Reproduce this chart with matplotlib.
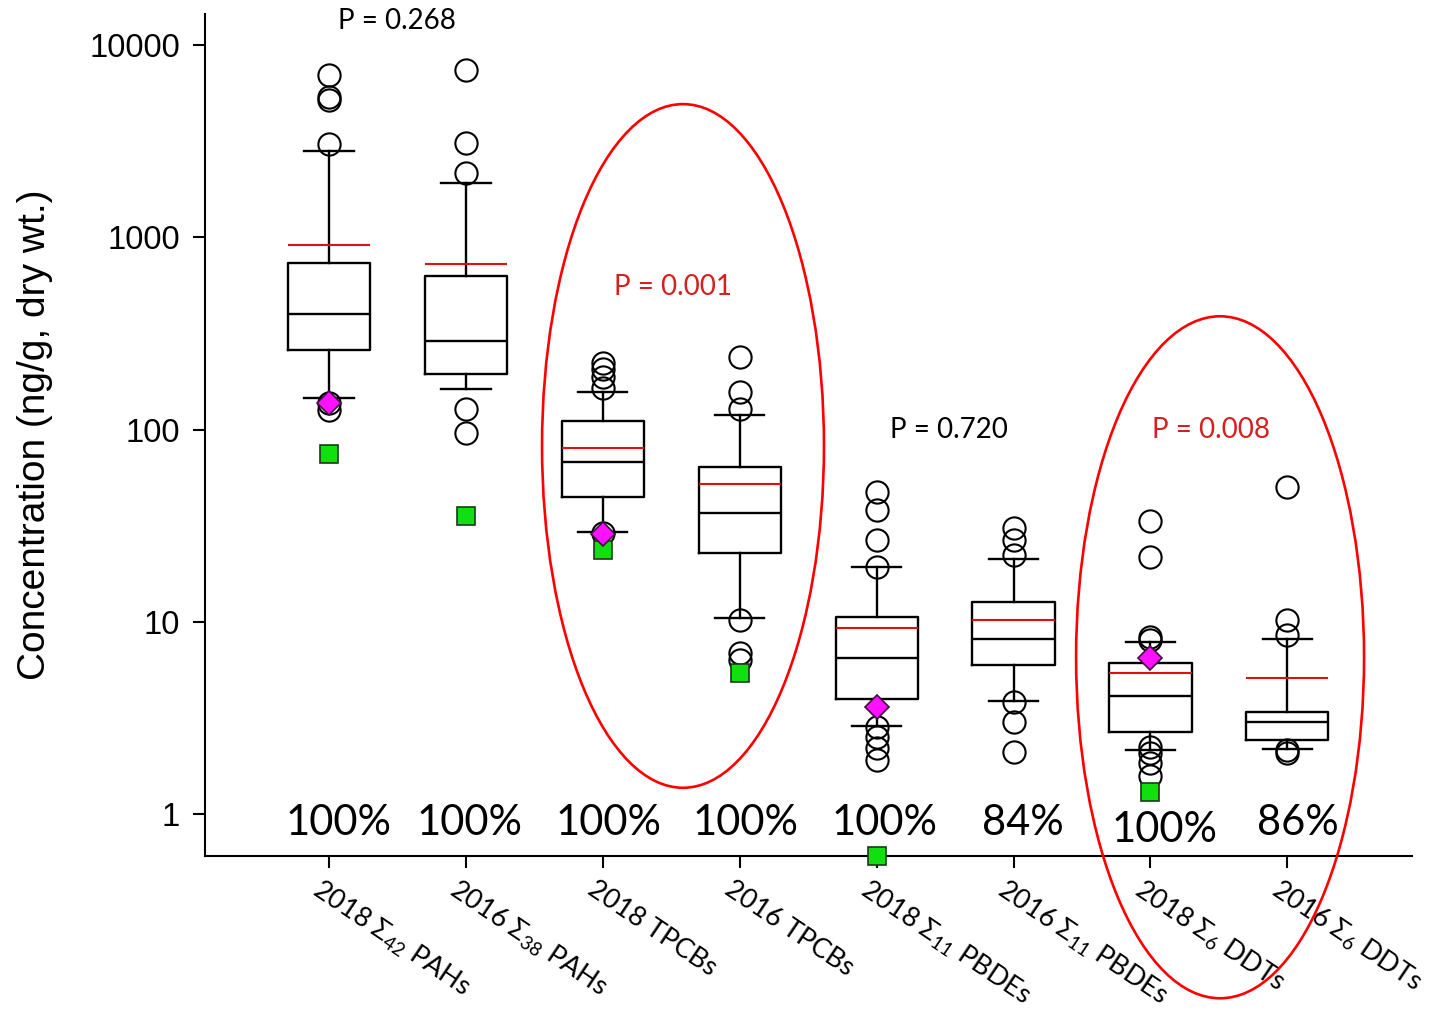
import matplotlib
matplotlib.use('Agg')
import matplotlib.pyplot as plt
import matplotlib.transforms as mtransforms
from matplotlib.patches import Ellipse
from matplotlib.ticker import NullLocator

plt.rcParams['mathtext.fontset'] = 'custom'
plt.rcParams['mathtext.rm'] = 'Lato'
plt.rcParams['mathtext.it'] = 'Lato:italic'
plt.rcParams['mathtext.bf'] = 'Lato:bold'

# box statistics (ng/g dry wt.)
labels = [r'2018 $\Sigma_{42}$ PAHs', r'2016 $\Sigma_{38}$ PAHs',
          '2018 TPCBs', '2016 TPCBs',
          r'2018 $\Sigma_{11}$ PBDEs', r'2016 $\Sigma_{11}$ PBDEs',
          r'2018 $\Sigma_{6}$ DDTs', r'2016 $\Sigma_{6}$ DDTs']
whishi = [2810, 1915, 157, 119, 19.3, 21.2, 7.85, 8.13]
q3 = [734, 628, 111, 63.8, 10.6, 12.7, 6.1, 3.4]
medians = [399, 288, 68, 36.8, 6.48, 8.13, 4.11, 3.01]
q1 = [259, 194, 44.5, 22.8, 3.96, 5.96, 2.67, 2.43]
whislo = [146, 162, 29.3, 10.5, 2.87, 3.87, 2.15, 2.18]
means = [912, 726, 80, 52, 9.27, 10.2, 5.41, 5.1]
fliers = [
    [6980, 5370, 5175, 3055, 137, 126],
    [7410, 3090, 2158, 128, 96],
    [222, 207, 188, 164, 29],
    [238, 157, 128, 10.2, 6.9, 6.3],
    [47.3, 38.1, 26.6, 19.3, 2.83, 2.52, 2.2, 1.91],
    [30.7, 26.6, 22.2, 3.83, 3.01, 2.1],
    [33.4, 21.7, 8.33, 8.04, 2.23, 2.07, 1.84, 1.58],
    [50.2, 10.2, 8.53, 2.15, 2.07],
]

# magenta diamonds and green squares
diamond_idx = [1, 3, 5, 7]
diamond_vals = [137, 28.5, 3.6, 6.5]
square_idx = [1, 2, 3, 4, 5, 7]
square_vals = [75, 35.5, 23.5, 5.4, 0.605, 1.3]

detect_pct = ['100%', '100%', '100%', '100%', '100%', '84%', '100%', '86%']
p_values = ['P = 0.268', 'P = 0.001', 'P = 0.720', 'P = 0.008']
p_colors = ['black', '#d42020', 'black', '#d42020']


def driver():
    positions = list(range(1, len(labels) + 1))
    stats = []
    for i in range(len(labels)):
        stats.append(dict(med=medians[i], q1=q1[i], q3=q3[i],
                          whislo=whislo[i], whishi=whishi[i],
                          mean=means[i], fliers=fliers[i]))

    fig = plt.figure(figsize=(14.3, 10.16), dpi=100)
    ax = fig.add_axes([0.1434, 0.1575, 0.8440, 0.8287])
    ax.set_yscale('log')

    line = dict(color='black', linewidth=1.7)
    ax.bxp(stats, positions=positions, widths=0.6, capwidths=0.36,
           showmeans=True, meanline=True,
           boxprops=line, whiskerprops=line, capprops=line,
           medianprops=line,
           meanprops=dict(color='#e01010', linewidth=1.5, linestyle='-'),
           flierprops=dict(marker='o', markersize=16, markerfacecolor='none',
                           markeredgecolor='black', markeredgewidth=1.5))

    ax.plot(square_idx, square_vals, 's', markersize=13,
            markerfacecolor='#10e010', markeredgecolor='#1a3a1a',
            markeredgewidth=1.2, clip_on=False, zorder=4)
    ax.plot(diamond_idx, diamond_vals, 'D', markersize=12.5,
            markerfacecolor='#ff10ff', markeredgecolor='#401040',
            markeredgewidth=1.2, clip_on=False, zorder=5)

    ax.set_xlim(0.095, 8.91)
    ax.set_ylim(0.605, 14500)
    ax.set_yticks([1, 10, 100, 1000, 10000])
    ax.set_yticklabels(['1', '10', '100', '1000', '10000'],
                       family='Liberation Sans', fontsize=23.5)
    ax.yaxis.set_minor_locator(NullLocator())
    ax.tick_params(axis='y', direction='out', length=9, width=1.5, pad=9)
    ax.tick_params(axis='x', direction='out', length=8.5, width=1.5, pad=6)

    ax.set_xticks(positions)
    ax.set_xticklabels(labels, rotation=-34, ha='left', va='top',
                       rotation_mode='anchor', family='Lato', fontsize=19.5)
    shift = mtransforms.ScaledTranslation(-0.06, 0, fig.dpi_scale_trans)
    for lab in ax.get_xticklabels():
        lab.set_transform(lab.get_transform() + shift)

    ax.set_ylabel('Concentration (ng/g, dry wt.)',
                  family=['Liberation Sans Narrow', 'Liberation Sans'],
                  fontsize=28, labelpad=26)

    for side in ['top', 'right']:
        ax.spines[side].set_visible(False)
    for side in ['left', 'bottom']:
        ax.spines[side].set_linewidth(1.5)

    tr = mtransforms.blended_transform_factory(ax.transData, ax.transAxes)
    pct_y = [0.039, 0.039, 0.039, 0.039, 0.039, 0.039, 0.031, 0.039]
    pct_x = [1.07, 2.03, 3.04, 4.04, 5.06, 6.07, 7.10, 8.08]
    for i in range(len(detect_pct)):
        ax.text(pct_x[i], pct_y[i], detect_pct[i], transform=tr,
                ha='center', va='center', family='Lato', fontsize=30)

    p_x = [1.50, 3.51, 5.53, 7.44]
    p_y = [0.992, 0.676, 0.506, 0.506]
    for i in range(len(p_values)):
        ax.text(p_x[i], p_y[i], p_values[i], transform=tr, color=p_colors[i],
                ha='center', va='center', family='Lato', fontsize=20)

    # red highlight ellipses
    for cx, cy, w, h in [(0.396, 0.487, 0.2336, 0.812),
                         (0.841, 0.236, 0.2386, 0.810)]:
        ax.add_patch(Ellipse((cx, cy), w, h, transform=ax.transAxes,
                             fill=False, edgecolor='#ff0000', linewidth=1.9,
                             clip_on=False, zorder=6))

    fig.savefig('out.png', dpi=100)


def main():
    driver()


main()
